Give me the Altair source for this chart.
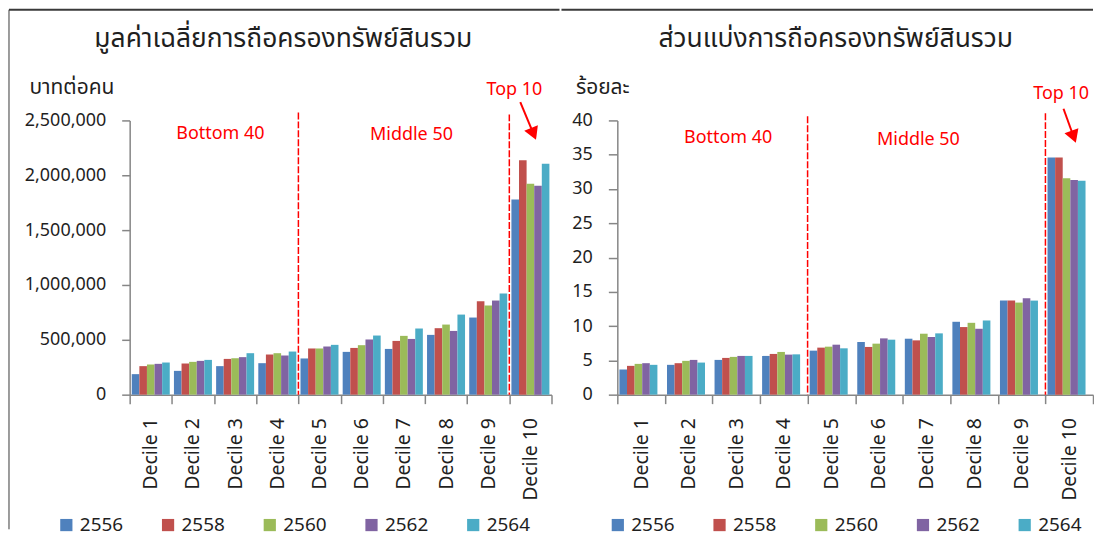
import altair as alt
import pandas as pd

# ---------------- data ----------------
deciles = [f"Decile {i}" for i in range(1, 11)]
years = ["2556", "2558", "2560", "2562", "2564"]
colors = ["#4F81BD", "#C0504D", "#9BBB59", "#8064A2", "#4BACC6"]

# average total asset holding (baht per person)
avg_2556 = [187000, 217000, 260000, 287000, 330000, 390000, 417000, 545000, 703000, 1780000]
avg_2558 = [260000, 284000, 326000, 366000, 421000, 426000, 490000, 606000, 852000, 2138000]
avg_2560 = [275000, 299000, 332000, 378000, 421000, 451000, 536000, 639000, 812000, 1923000]
avg_2562 = [281000, 308000, 342000, 357000, 439000, 503000, 508000, 581000, 858000, 1905000]
avg_2564 = [293000, 317000, 378000, 393000, 454000, 539000, 603000, 730000, 922000, 2106000]

# share of total asset holding (percent)
share_2556 = [3.67, 4.35, 5.07, 5.65, 6.42, 7.68, 8.16, 10.63, 13.72, 34.59]
share_2558 = [4.20, 4.59, 5.36, 5.94, 6.86, 6.96, 7.92, 9.86, 13.72, 34.59]
share_2560 = [4.49, 4.93, 5.51, 6.23, 7.00, 7.44, 8.89, 10.48, 13.43, 31.55]
share_2562 = [4.59, 5.07, 5.65, 5.84, 7.29, 8.21, 8.41, 9.61, 14.06, 31.30]
share_2564 = [4.35, 4.68, 5.65, 5.88, 6.76, 8.02, 8.94, 10.82, 13.72, 31.20]

group_names = ["Bottom 40", "Middle 50", "Top 10"]
group_breaks = [4, 9]

left_title = "มูลค่าเฉลี่ยการถือครองทรัพย์สินรวม"
right_title = "ส่วนแบ่งการถือครองทรัพย์สินรวม"
left_ytitle = "บาทต่อคน"
right_ytitle = "ร้อยละ"

# ---------------- style ----------------
FONT = "Noto Sans"
THAI = "Noto Sans Thai, Noto Sans, sans-serif"
AX = "#868686"
TXT = "#1F1F1F"
RED = "#FF0000"


def long_table(series):
    rows = []
    for y, vals in zip(years, series):
        for d, v in zip(deciles, vals):
            rows.append({"decile": d, "year": y, "value": v})
    return pd.DataFrame(rows)


def panel(series, cfg):
    yscale = alt.Scale(domain=[0, cfg["ymax"]], nice=False, zero=True)
    pscale = alt.Scale(domain=[0, 10], nice=False, zero=False)
    yaxis = alt.Axis(values=cfg["ticks"], format=cfg["fmt"],
                     title=cfg["ytitle"], titleAngle=0, titleAlign="left",
                     titleBaseline="alphabetic", titleX=cfg["ytitle_x"], titleY=-27,
                     titleFont=THAI, titleFontSize=21, titleFontWeight="normal",
                     titleColor=TXT, labelFont=FONT, labelFontSize=18,
                     labelColor=TXT, labelPadding=16, tickSize=cfg["ticksize"],
                     tickWidth=1.5, tickColor=AX, domainColor=AX,
                     domainWidth=1.5, grid=False)

    def Y(field="value"):
        return alt.Y(f"{field}:Q", scale=yscale, axis=yaxis)

    def P(field="pos"):
        return alt.X(f"{field}:Q", scale=pscale, axis=None)

    bars = alt.Chart(long_table(series)).mark_bar().encode(
        x=alt.X("decile:N", sort=deciles,
                scale=alt.Scale(paddingInner=0, paddingOuter=0),
                axis=alt.Axis(title=None, labelAngle=270, tickBand="extent",
                              tickSize=9, tickWidth=1.5, tickColor=AX,
                              domainColor=AX, domainWidth=1.5,
                              labelFont=FONT, labelFontSize=19.5, labelColor=TXT,
                              labelPadding=14)),
        xOffset=alt.XOffset("year:N", sort=years,
                            scale=alt.Scale(paddingInner=0, paddingOuter=0.275)),
        y=Y(),
        color=alt.Color("year:N", sort=years,
                        scale=alt.Scale(domain=years, range=colors),
                        legend=alt.Legend(title=None, orient="none",
                                          legendX=cfg["legend_x"], legendY=cfg["legend_y"],
                                          direction="horizontal", columns=5,
                                          symbolType="square", symbolSize=150,
                                          symbolStrokeWidth=0, labelFont=FONT,
                                          labelFontSize=19, labelColor=TXT,
                                          labelOffset=4, columnPadding=35, padding=0)),
    )

    div_df = pd.DataFrame({"pos": group_breaks, "value": cfg["div_top"], "base": [0, 0]})
    dividers = alt.Chart(div_df).mark_rule(color=RED, strokeWidth=1.5, strokeDash=[7, 2]).encode(
        x=P(), y=Y(), y2="base:Q",
    )

    lab_df = pd.DataFrame({"label": group_names, "pos": cfg["label_pos"], "value": cfg["label_val"]})
    labels = alt.Chart(lab_df).mark_text(color=RED, font=FONT, fontSize=18,
                                         baseline="middle").encode(
        x=P(), y=Y(), text="label:N",
    )

    sx, sy, hx, hy = cfg["arrow"]
    shaft_df = pd.DataFrame({"pos": [sx], "value": [sy], "pos2": [hx], "value2": [hy]})
    shaft = alt.Chart(shaft_df).mark_rule(color=RED, strokeWidth=2).encode(
        x=P(), y=Y(), x2="pos2:Q", y2="value2:Q",
    )
    head_df = pd.DataFrame({"pos": [hx], "value": [hy]})
    head = alt.Chart(head_df).mark_point(shape="triangle-down", filled=True, color=RED,
                                         opacity=1, size=220,
                                         angle=cfg["arrow_angle"]).encode(
        x=P(), y=Y(),
    )

    title = alt.Chart(pd.DataFrame({"t": [cfg["title"]]})).mark_text(
        font=THAI, fontSize=26.5, color=TXT, align="center", baseline="alphabetic"
    ).encode(x=alt.value(cfg["title_x"]), y=alt.value(-74), text="t:N")

    layers = [bars, dividers, labels, shaft, head, title]
    for fx, fx2, fy, fy2, fw in cfg["frame"]:
        enc = {"x": alt.value(fx), "y": alt.value(fy)}
        if fx2 is not None:
            enc["x2"] = alt.value(fx2)
        if fy2 is not None:
            enc["y2"] = alt.value(fy2)
        layers.append(alt.Chart(pd.DataFrame({"a": [0]})).mark_rule(
            color="#3a3a3a", strokeWidth=fw).encode(**enc))

    return alt.layer(*layers).resolve_scale(x="independent").properties(
        width=cfg["width"], height=cfg["height"])


left_cfg = dict(
    width=423, height=275, ymax=2500000,
    ticks=[0, 500000, 1000000, 1500000, 2000000, 2500000], fmt=",d", ticksize=8,
    ytitle=left_ytitle, ytitle_x=-101,
    legend_x=-73, legend_y=396,
    div_top=[2573000, 2555000],
    label_pos=[2.15, 6.68, 9.12], label_val=[2380000, 2363000, 2773000],
    arrow=(9.26, 2667000, 9.574, 2377000), arrow_angle=337.3,
    title=left_title, title_x=154,
    frame=[(-121, None, -111, 410, 1), (-121, 431, -111, None, 2)],
)
right_cfg = dict(
    width=477, height=275, ymax=40,
    ticks=[0, 5, 10, 15, 20, 25, 30, 35, 40], fmt="d", ticksize=9,
    ytitle=right_ytitle, ytitle_x=-42,
    legend_x=-9, legend_y=396,
    div_top=[40.6, 41.06],
    label_pos=[2.33, 6.33, 9.33], label_val=[37.43, 37.1, 43.9],
    arrow=(9.38, 41.7, 9.593, 37.62), arrow_angle=339.9,
    title=right_title, title_x=219,
    frame=[(-56, 477, -111, None, 2)],
)

left = panel([avg_2556, avg_2558, avg_2560, avg_2562, avg_2564], left_cfg)
right = panel([share_2556, share_2558, share_2560, share_2562, share_2564], right_cfg)

chart = alt.hconcat(left, right, spacing=0).resolve_scale(color="independent").resolve_legend(
    color="independent"
).properties(
    padding={"left": 0, "top": 0, "right": 0, "bottom": 0}
).configure_view(stroke=None)

chart.save("out.html", embed_options={"renderer": "svg", "actions": False})
